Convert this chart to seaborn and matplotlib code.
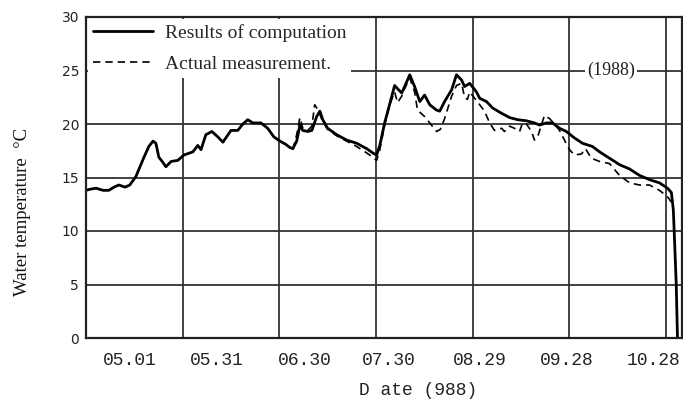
import matplotlib
matplotlib.use("Agg")
import matplotlib.pyplot as plt
import seaborn as sns

# days counted from the left edge of the chart (one vertical grid line every 30 days)
day_calc = [0.0, 1.2, 3.1, 5.3, 7.1, 8.7, 10.2, 12.1, 13.6, 15.5, 18.0, 19.5, 20.8, 21.7,
            22.6, 23.9, 24.8, 26.4, 28.5, 30.4, 33.2, 34.7, 35.7, 37.2, 39.1, 40.9, 42.5,
            45.0, 47.1, 48.7, 50.2, 51.8, 54.3, 56.4, 58.3, 60.2, 62.0, 63.3, 64.2, 65.4,
            66.4, 67.3, 68.8, 70.1, 71.6, 72.6, 73.5, 75.0, 77.8, 80.9, 84.0, 87.1, 89.0,
            90.2, 91.2, 92.7, 94.3, 95.8, 96.7, 98.0, 98.9, 100.5, 102.0, 103.6, 105.1,
            106.7, 108.8, 109.8, 111.3, 113.5, 115.0, 116.6, 117.5, 119.1, 121.2, 122.2,
            124.3, 126.2, 129.0, 131.5, 134.0, 136.7, 139.2, 140.8, 142.9, 144.8, 147.0,
            149.1, 151.6, 154.1, 157.2, 159.4, 162.5, 165.6, 168.7, 171.8, 174.9, 178.0,
            180.5, 181.7, 182.3, 182.6, 183.2, 183.6]
temp_calc = [13.8, 13.9, 14.0, 13.8, 13.8, 14.1, 14.3, 14.1, 14.3, 15.1, 16.9, 17.9, 18.4, 18.2,
             16.9, 16.4, 16.0, 16.5, 16.6, 17.1, 17.4, 18.0, 17.6, 19.0, 19.3, 18.8, 18.3,
             19.4, 19.4, 20.0, 20.4, 20.1, 20.1, 19.6, 18.8, 18.4, 18.1, 17.8, 17.7, 18.4,
             19.9, 19.4, 19.3, 19.4, 20.7, 21.2, 20.4, 19.6, 19.0, 18.5, 18.2, 17.7, 17.3,
             17.1, 18.0, 20.1, 21.9, 23.6, 23.3, 22.9, 23.5, 24.6, 23.5, 22.1, 22.7,
             21.8, 21.3, 21.2, 22.1, 23.2, 24.6, 24.1, 23.5, 23.8, 23.0, 22.4,
             22.1, 21.5, 21.0, 20.6, 20.4, 20.3, 20.1, 19.9, 20.1, 20.1, 19.6,
             19.3, 18.7, 18.2, 17.9, 17.4, 16.8, 16.2, 15.8, 15.2, 14.8, 14.5,
             14.0, 13.6, 12.0, 9.8, 5.1, 0.0]

day_meas = [64.2, 65.4, 66.4, 67.3, 68.8, 70.1, 71.0, 72.2, 73.5, 75.0, 77.8, 80.9, 84.0,
            87.1, 89.0, 90.2, 91.2, 92.7, 94.3, 95.8, 96.7, 98.0, 98.9, 100.5, 102.0, 102.9,
            105.1, 106.7, 108.8, 110.0, 111.3, 113.5, 115.0, 116.6, 117.5, 118.4, 119.1,
            122.2, 123.7, 125.3, 126.8, 129.0, 129.9, 131.5, 133.0, 134.6, 135.5, 136.7,
            138.3, 139.2, 140.2, 142.3, 143.9, 145.4, 147.0, 148.5, 150.1, 151.6, 153.8,
            155.0, 156.9, 159.4, 162.5, 165.6, 168.7, 171.8, 174.9, 178.0, 180.5, 181.7]
temp_meas = [17.6, 19.0, 20.6, 19.6, 19.4, 19.8, 21.8, 21.2, 20.2, 19.5, 18.9, 18.4, 17.9,
             17.3, 16.9, 16.6, 17.6, 19.9, 21.8, 23.0, 22.0, 22.6, 23.3, 24.3, 23.0, 21.3,
             20.7, 20.1, 19.3, 19.5, 20.5, 22.6, 23.6, 23.8, 22.5, 22.3, 23.0,
             21.8, 21.2, 20.1, 19.4, 19.6, 19.3, 19.8, 19.6, 19.3, 20.1, 20.0,
             19.3, 18.5, 18.8, 20.8, 20.5, 20.0, 19.4, 18.5, 17.6, 17.1, 17.2,
             17.7, 16.8, 16.5, 16.3, 15.2, 14.5, 14.3, 14.3, 13.8, 13.2, 12.7]

date_labels = ["05.01", "05.31", "06.30", "07.30", "08.29", "09.28", "10.28"]
y_ticks = [0, 5, 10, 15, 20, 25, 30]

# layout: the printed date labels sit a little off the grid lines
label_pos = [13.6, 40.6, 67.9, 94.0, 122.2, 149.1, 176.1]
grid_pos = [30, 60, 90, 120, 150, 180]

sns.set_style("white")
plt.rcParams["font.family"] = ["Liberation Serif", "DejaVu Sans"]

fig = plt.figure(figsize=(6.83, 4.0), dpi=100)
ax = fig.add_axes([86 / 683, 62 / 400, 596 / 683, 321 / 400])

sns.lineplot(x=day_calc, y=temp_calc, color="black", lw=2.0, ax=ax,
             estimator=None, sort=False, label="Results of computation")
sns.lineplot(x=day_meas, y=temp_meas, color="black", lw=1.2, ax=ax,
             estimator=None, sort=False, linestyle=(0, (4.4, 3)),
             label="Actual measurement.")

ax.set_xlim(0, 185)
ax.set_ylim(0, 30)

ax.set_yticks(y_ticks)
ax.set_yticklabels([str(v) for v in y_ticks], family="DejaVu Sans", fontsize=10, color="#222222")
ax.set_xticks(label_pos)
ax.set_xticklabels(date_labels, family="Liberation Mono", fontsize=13, color="#222222")
ax.set_xticks(grid_pos, minor=True)
ax.tick_params(axis="both", which="both", length=0)
ax.tick_params(axis="x", pad=10)
ax.tick_params(axis="y", pad=5)

ax.grid(False)
ax.grid(True, which="major", axis="y", color="#333333", lw=1.3)
ax.grid(True, which="minor", axis="x", color="#333333", lw=1.3)
for s in ax.spines.values():
    s.set_visible(True)
    s.set_color("#222222")
    s.set_linewidth(1.6)

ax.set_xlabel("D ate (988)", family="Liberation Mono", fontsize=13, color="#222222")
ax.xaxis.set_label_coords(0.557, -0.162)
ax.xaxis.label.set_va("center")
ax.set_ylabel("Water temperature  °C", fontsize=13.5, color="#111111")
ax.yaxis.set_label_coords(-0.107, 0.393)
ax.yaxis.label.set_va("center")

ax.text(163, 25, "(1988)", fontsize=13, ha="center", va="center", color="#222222",
        bbox=dict(facecolor="white", edgecolor="none", pad=1.5))

leg = ax.legend(loc="upper left", bbox_to_anchor=(0, 1), borderaxespad=0.1, borderpad=0.25,
                fontsize=14, handlelength=3.1, handletextpad=0.6, labelspacing=0.7,
                frameon=True, fancybox=False, framealpha=1)
leg.get_frame().set_edgecolor("none")
leg.get_frame().set_facecolor("white")

fig.savefig("out.png", dpi=100)
